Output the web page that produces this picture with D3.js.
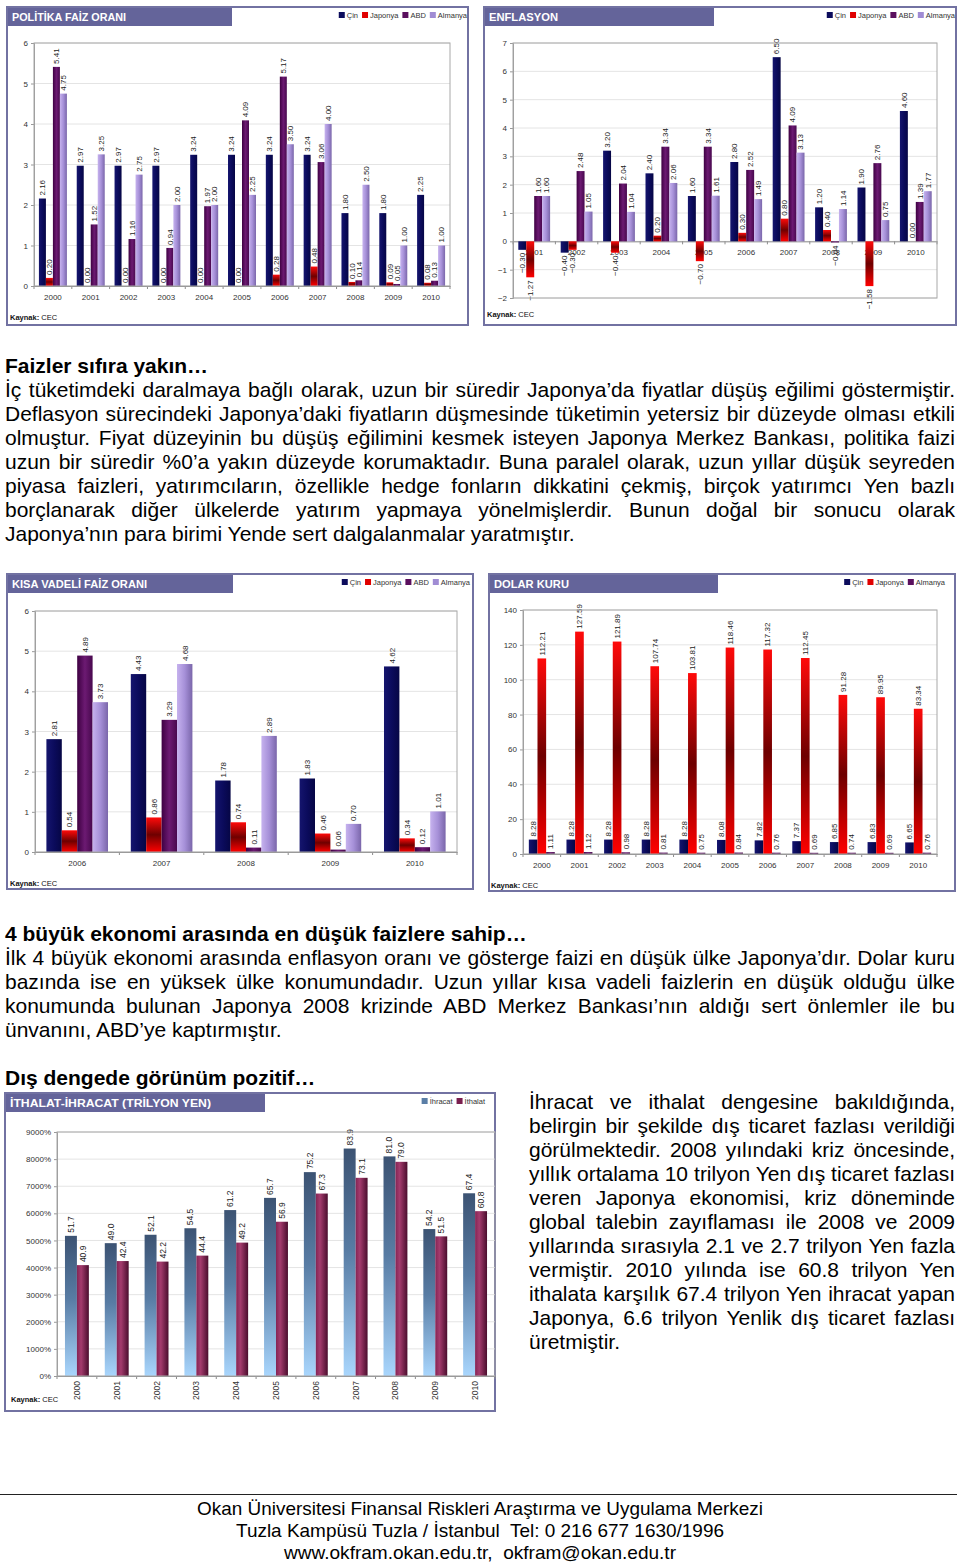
<!DOCTYPE html>
<html><head><meta charset="utf-8">
<script src="https://cdn.jsdelivr.net/npm/d3@7"></script>
<style>
body{margin:0;background:#fff;width:960px;height:1564px;position:relative;overflow:hidden;font-family:"Liberation Sans",Arial,sans-serif;}
#svg{position:absolute;left:0;top:0;}
.line{position:absolute;font-size:21px;line-height:24px;height:24px;white-space:pre;color:#000;}
.h{font-weight:bold;font-size:21px;}
</style></head><body>
<svg id="svg" width="960" height="1564"></svg>
<div id="txt"></div>
<script>
// ---------------- DATA ----------------
const policyYears = ["2000","2001","2002","2003","2004","2005","2006","2007","2008","2009","2010"];
const policyCin     = [2.16,2.97,2.97,2.97,3.24,3.24,3.24,3.24,1.80,1.80,2.25];
const policyJaponya = [0.20,0.00,0.00,0.00,0.00,0.00,0.28,0.48,0.10,0.09,0.08];
const policyABD     = [5.41,1.52,1.16,0.94,1.97,4.09,5.17,3.06,0.14,0.05,0.13];
const policyAlmanya = [4.75,3.25,2.75,2.00,2.00,2.25,3.50,4.00,2.50,1.00,1.00];
const policyTicks   = [0,1,2,3,4,5,6];

const inflYears   = ["2001","2002","2003","2004","2005","2006","2007","2008","2009","2010"];
const inflCin     = [-0.30,-0.40,3.20,2.40,1.60,2.80,6.50,1.20,1.90,4.60];
const inflJaponya = [-1.27,-0.30,-0.40,0.20,-0.70,0.30,0.80,0.40,-1.58,0.00];
const inflABD     = [1.60,2.48,2.04,3.34,3.34,2.52,4.09,-0.04,2.76,1.39];
const inflAlmanya = [1.60,1.05,1.04,2.06,1.61,1.49,3.13,1.14,0.75,1.77];
const inflTicks   = [-2,-1,0,1,2,3,4,5,6,7];

const shortYears   = ["2006","2007","2008","2009","2010"];
const shortCin     = [2.81,4.43,1.78,1.83,4.62];
const shortJaponya = [0.54,0.86,0.74,0.46,0.34];
const shortABD     = [4.89,3.29,0.11,0.06,0.12];
const shortAlmanya = [3.73,4.68,2.89,0.70,1.01];
const shortTicks   = [0,1,2,3,4,5,6];

const usdYears   = ["2000","2001","2002","2003","2004","2005","2006","2007","2008","2009","2010"];
const usdCin     = [8.28,8.28,8.28,8.28,8.28,8.08,7.82,7.37,6.85,6.83,6.65];
const usdJaponya = [112.21,127.59,121.89,107.74,103.81,118.46,117.32,112.45,91.28,89.95,83.34];
const usdAlmanya = [1.11,1.12,0.98,0.81,0.75,0.84,0.76,0.69,0.74,0.69,0.76];
const usdTicks   = [0,20,40,60,80,100,120,140];

const tradeYears    = ["2000","2001","2002","2003","2004","2005","2006","2007","2008","2009","2010"];
const tradeIhracat  = [51.7,49.0,52.1,54.5,61.2,65.7,75.2,83.9,81.0,54.2,67.4];
const tradeIthalat  = [40.9,42.4,42.2,44.4,49.2,56.9,67.3,73.1,79.0,51.5,60.8];
const tradeTicks    = [0,10,20,30,40,50,60,70,80,90];
const tradeTickLabels = ["0%","1000%","2000%","3000%","4000%","5000%","6000%","7000%","8000%","9000%"];

// ---------------- SETUP ----------------
const FONT = '"Liberation Sans", Arial, sans-serif';
const svg = d3.select('#svg');
const defs = svg.append('defs');
function grad(id, vertical, stops){
  const g = defs.append('linearGradient').attr('id',id)
    .attr('x1',0).attr('y1',0).attr('x2',vertical?0:1).attr('y2',vertical?1:0);
  stops.forEach(s=>g.append('stop').attr('offset',s[0]).attr('stop-color',s[1]));
}
grad('gCin',false,[[0,'#15156e'],[0.5,'#0b0b5c'],[1,'#060645']]);
grad('gJap',true,[[0,'#ff0a0a'],[0.5,'#6e0000'],[1,'#ff0000']]);
grad('gABD',false,[[0,'#3e0042'],[0.5,'#6c1a72'],[1,'#48084e']]);
grad('gAlm',false,[[0,'#c6b2ee'],[0.5,'#a690d8'],[1,'#7a66aa']]);
grad('gIhr',true,[[0,'#3c5373'],[0.45,'#587ca4'],[1,'#a9d6fd']]);
grad('gIth',false,[[0,'#842454'],[0.35,'#a43b6d'],[1,'#4a0d2d']]);

const C = {cin:'#0c0c5c', jap:'#e00000', abd:'#5a0f5e', alm:'#a08cd4', ihr:'#5a7ea6', ith:'#7a1f4f'};

function panel(x,y,w,h,tw,title,titleLen){
  svg.append('rect').attr('x',x).attr('y',y).attr('width',w).attr('height',h)
    .attr('fill','#fff').attr('stroke','#7272a2').attr('stroke-width',2);
  svg.append('rect').attr('x',x+1).attr('y',y+1).attr('width',tw).attr('height',18).attr('fill','#64649a');
  svg.append('text').attr('x',x+5).attr('y',y+10).attr('dy','0.35em')
    .attr('fill','#fff').attr('font-weight','bold').attr('font-size',11).attr('font-family',FONT)
    .attr('textLength',titleLen).attr('lengthAdjust','spacingAndGlyphs').text(title);
}
function kaynak(x,y){
  const t = svg.append('text').attr('x',x).attr('y',y).attr('dy','0.35em')
    .attr('font-size',7.5).attr('font-family',FONT).attr('fill','#111');
  t.append('tspan').attr('font-weight','bold').text('Kaynak:');
  t.append('tspan').text(' CEC');
}
function legend(items,rightX,yC){
  const g = svg.append('g');
  let x=0;
  items.forEach(it=>{
    g.append('rect').attr('x',x).attr('y',yC-3).attr('width',6).attr('height',6).attr('fill',it.color);
    const t = g.append('text').attr('x',x+8).attr('y',yC).attr('dy','0.35em')
      .attr('font-size',7.5).attr('font-family',FONT).attr('fill','#333').text(it.name);
    x += 8 + t.node().getComputedTextLength() + 4;
  });
  g.attr('transform',`translate(${rightX-(x-4)},0)`);
}

function barChart(cfg){
  const {left,right,top,bottom,cats,series,domain,ticks,tickLabels,frac,fmt,rotateCats,labelSize} = cfg;
  const g = svg.append('g');
  const x0 = d3.scaleBand().domain(cats).range([left,right]);
  const bw = x0.bandwidth();
  const x1 = d3.scaleBand().domain(series.map(s=>s.name)).range([bw*(1-frac)/2, bw*(1+frac)/2]);
  const y = d3.scaleLinear().domain(domain).range([bottom,top]);
  // grid
  g.append('g').selectAll('line').data(ticks).join('line')
    .attr('x1',left).attr('x2',right).attr('y1',d=>y(d)).attr('y2',d=>y(d))
    .attr('stroke','#e4e4e4');
  // y axis
  const ya = g.append('g').attr('transform',`translate(${left},0)`)
    .call(d3.axisLeft(y).tickValues(ticks).tickSize(3).tickPadding(3)
      .tickFormat((d,i)=>tickLabels?tickLabels[i]:d3.format('d')(d)));
  ya.select('.domain').attr('stroke','#999');
  ya.selectAll('line').attr('stroke','#999');
  ya.selectAll('text').attr('font-size',8).attr('font-family',FONT).attr('fill','#333');
  // x axis
  const y0 = y(0);
  const xa = g.append('g').attr('transform',`translate(0,${y0})`)
    .call(d3.axisBottom(x0).tickSize(0).tickPadding(8));
  xa.select('.domain').attr('stroke','#8c8c8c');
  xa.selectAll('text').attr('font-size',8).attr('font-family',FONT).attr('fill','#333');
  if(rotateCats){
    xa.selectAll('text').attr('transform','rotate(-90)').attr('text-anchor','end')
      .attr('x',-5).attr('y',0).attr('dy','0.35em').attr('font-size',8.5);
  }
  // category boundary ticks
  g.append('g').selectAll('line').data(d3.range(cats.length+1)).join('line')
    .attr('x1',i=>left+i*bw).attr('x2',i=>left+i*bw).attr('y1',y0).attr('y2',y0+3)
    .attr('stroke','#8c8c8c');
  // bars
  series.forEach(s=>{
    const sg = g.append('g');
    sg.selectAll('rect').data(s.values).join('rect')
      .attr('x',(d,i)=>x0(cats[i])+x1(s.name))
      .attr('width',x1.bandwidth())
      .attr('y',d=>d>=0?y(d):y0)
      .attr('height',d=>Math.max(Math.abs(y(d)-y0),0.01))
      .attr('fill',s.fill);
  });
  // value labels
  series.forEach(s=>{
    g.append('g').selectAll('text').data(s.values).join('text')
      .attr('transform',(d,i)=>{
        const cx = x0(cats[i])+x1(s.name)+x1.bandwidth()/2;
        const yy = d>=0 ? y(d)-3 : y(d)+3;
        return `translate(${cx},${yy}) rotate(-90)`;
      })
      .attr('text-anchor',d=>d>=0?'start':'end')
      .attr('dy','0.35em')
      .attr('font-size',labelSize||8).attr('font-family',FONT).attr('fill','#222')
      .text(d=>fmt(d));
  });
  // plot border
  g.append('rect').attr('x',left).attr('y',top).attr('width',right-left).attr('height',bottom-top)
    .attr('fill','none').attr('stroke','#a8a8a8');
}

const f2 = d3.format('.2f');
const f1 = d3.format('.1f');
const fourLegend = [{name:'Çin',color:C.cin},{name:'Japonya',color:C.jap},{name:'ABD',color:C.abd},{name:'Almanya',color:C.alm}];

// Chart 1 — Politika faiz oranı
panel(7,7,461,318,224,'POLİTİKA FAİZ ORANI',114);
legend(fourLegend,467,15);
barChart({left:34,right:450,top:43,bottom:286,cats:policyYears,
  series:[{name:'Çin',values:policyCin,fill:'url(#gCin)'},{name:'Japonya',values:policyJaponya,fill:'url(#gJap)'},
          {name:'ABD',values:policyABD,fill:'url(#gABD)'},{name:'Almanya',values:policyAlmanya,fill:'url(#gAlm)'}],
  domain:[0,6],ticks:policyTicks,frac:0.74,fmt:f2});
kaynak(10,317);

// Chart 2 — Enflasyon
panel(484,7,472,318,229,'ENFLASYON',69);
legend(fourLegend,955,15);
barChart({left:513,right:937,top:43,bottom:298,cats:inflYears,
  series:[{name:'Çin',values:inflCin,fill:'url(#gCin)'},{name:'Japonya',values:inflJaponya,fill:'url(#gJap)'},
          {name:'ABD',values:inflABD,fill:'url(#gABD)'},{name:'Almanya',values:inflAlmanya,fill:'url(#gAlm)'}],
  domain:[-2,7],ticks:inflTicks,frac:0.75,fmt:f2});
kaynak(487,314);

// Chart 3 — Kısa vadeli faiz oranı
panel(7,574,466,315,225,'KISA VADELİ FAİZ ORANI',135);
legend(fourLegend,470,582);
barChart({left:35,right:457,top:611,bottom:852,cats:shortYears,
  series:[{name:'Çin',values:shortCin,fill:'url(#gCin)'},{name:'Japonya',values:shortJaponya,fill:'url(#gJap)'},
          {name:'ABD',values:shortABD,fill:'url(#gABD)'},{name:'Almanya',values:shortAlmanya,fill:'url(#gAlm)'}],
  domain:[0,6],ticks:shortTicks,frac:0.73,fmt:f2});
kaynak(10,883);

// Chart 4 — Dolar kuru
panel(489,574,466,317,228,'DOLAR KURU',75);
legend([{name:'Çin',color:C.cin},{name:'Japonya',color:C.jap},{name:'Almanya',color:C.abd}],945,582);
barChart({left:523,right:937,top:610,bottom:854,cats:usdYears,
  series:[{name:'Çin',values:usdCin,fill:'url(#gCin)'},{name:'Japonya',values:usdJaponya,fill:'url(#gJap)'},
          {name:'Almanya',values:usdAlmanya,fill:'url(#gABD)'}],
  domain:[0,140],ticks:usdTicks,frac:0.69,fmt:f2});
kaynak(491,885);

// Chart 5 — İthalat-İhracat
panel(5,1093,490,318,259,'İTHALAT-İHRACAT (TRİLYON YEN)',201);
legend([{name:'İhracat',color:C.ihr},{name:'İthalat',color:C.ith}],485,1101);
barChart({left:57,right:495,top:1132,bottom:1376,cats:tradeYears,
  series:[{name:'İhracat',values:tradeIhracat,fill:'url(#gIhr)'},{name:'İthalat',values:tradeIthalat,fill:'url(#gIth)'}],
  domain:[0,90],ticks:tradeTicks,tickLabels:tradeTickLabels,frac:0.60,fmt:f1,rotateCats:true,labelSize:8.5});
kaynak(11,1399);

// ---------------- TEXT ----------------
const txt = document.getElementById('txt');
function addLine(s,x,yc,w,opts){
  opts = opts||{};
  const d = document.createElement('div');
  d.className = 'line' + (opts.h?' h':'');
  d.style.left = x+'px'; d.style.top = (yc-12)+'px';
  const sp = document.createElement('span'); sp.textContent = s; d.appendChild(sp);
  txt.appendChild(d);
  if(opts.j){
    const nat = sp.getBoundingClientRect().width;
    const n = (s.match(/ /g)||[]).length;
    if(n>0) d.style.wordSpacing = ((w-nat)/n)+'px';
  }
}
const para1 = [
 "İç tüketimdeki daralmaya bağlı olarak, uzun bir süredir Japonya’da fiyatlar düşüş eğilimi göstermiştir.",
 "Deflasyon sürecindeki Japonya’daki fiyatların düşmesinde tüketimin yetersiz bir düzeyde olması etkili",
 "olmuştur. Fiyat düzeyinin bu düşüş eğilimini kesmek isteyen Japonya Merkez Bankası, politika faizi",
 "uzun bir süredir %0’a yakın düzeyde korumaktadır. Buna paralel olarak, uzun yıllar düşük seyreden",
 "piyasa faizleri, yatırımcıların, özellikle hedge fonların dikkatini çekmiş, birçok yatırımcı Yen bazlı",
 "borçlanarak diğer ülkelerde yatırım yapmaya yönelmişlerdir. Bunun doğal bir sonucu olarak",
 "Japonya’nın para birimi Yende sert dalgalanmalar yaratmıştır."
];
const para2 = [
 "İlk 4 büyük ekonomi arasında enflasyon oranı ve gösterge faizi en düşük ülke Japonya’dır. Dolar kuru",
 "bazında ise en yüksek ülke konumundadır. Uzun yıllar kısa vadeli faizlerin en düşük olduğu ülke",
 "konumunda bulunan Japonya 2008 krizinde ABD Merkez Bankası’nın aldığı sert önlemler ile bu",
 "ünvanını, ABD’ye kaptırmıştır."
];
const para3 = [
 "İhracat ve ithalat dengesine bakıldığında,",
 "belirgin bir şekilde dış ticaret fazlası verildiği",
 "görülmektedir. 2008 yılındaki kriz öncesinde,",
 "yıllık ortalama 10 trilyon Yen dış ticaret fazlası",
 "veren Japonya ekonomisi, kriz döneminde",
 "global talebin zayıflaması ile 2008 ve 2009",
 "yıllarında sırasıyla 2.1 ve 2.7 trilyon Yen fazla",
 "vermiştir. 2010 yılında ise 60.8 trilyon Yen",
 "ithalata karşılık 67.4 trilyon Yen ihracat yapan",
 "Japonya, 6.6 trilyon Yenlik dış ticaret fazlası",
 "üretmiştir."
];
addLine("Faizler sıfıra yakın…",5,366,950,{h:true});
para1.forEach((s,i)=>addLine(s,5,390+24*i,950,{j:i<para1.length-1}));
addLine("4 büyük ekonomi arasında en düşük faizlere sahip…",5,934,950,{h:true});
para2.forEach((s,i)=>addLine(s,5,958+24*i,950,{j:i<para2.length-1}));
addLine("Dış dengede görünüm pozitif…",5,1078,950,{h:true});
para3.forEach((s,i)=>addLine(s,529,1102+24*i,426,{j:i<para3.length-1}));

// ---------------- FOOTER ----------------
svg.append('line').attr('x1',0).attr('x2',957).attr('y1',1494.5).attr('y2',1494.5).attr('stroke','#222').attr('stroke-width',1.2);
const footer = [
 {t:"Okan Üniversitesi Finansal Riskleri Araştırma ve Uygulama Merkezi", w:566, y:1515},
 {t:"Tuzla Kampüsü Tuzla / İstanbul  Tel: 0 216 677 1630/1996", w:488, y:1537},
 {t:"www.okfram.okan.edu.tr,  okfram@okan.edu.tr", w:392, y:1559}
];
svg.append('g').selectAll('text').data(footer).join('text')
  .attr('x',480).attr('y',d=>d.y).attr('text-anchor','middle')
  .attr('font-family','"Liberation Sans Narrow", "Arial Narrow", "Liberation Sans", sans-serif')
  .attr('font-size',19).attr('fill','#000')
  .attr('textLength',d=>d.w).attr('lengthAdjust','spacingAndGlyphs')
  .style('white-space','pre')
  .text(d=>d.t);
</script>
</body></html>
